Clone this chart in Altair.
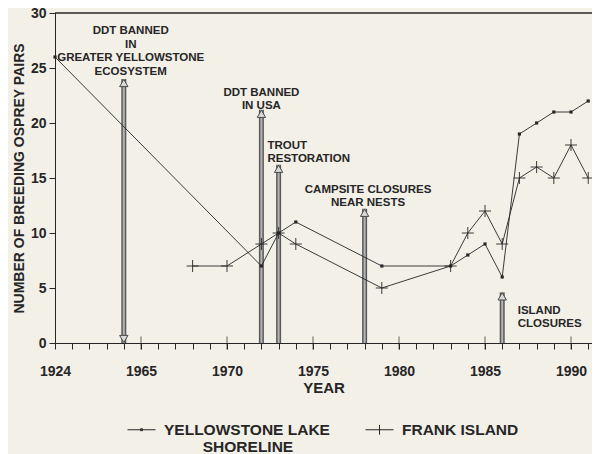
import altair as alt
import pandas as pd

# ---------------- data ----------------
# 1924 is drawn on a broken axis, one "slot" before 1965
BREAK_YEAR = 1924
BREAK_POS = 1960

shore_years = [1924, 1972, 1973, 1974, 1979, 1983, 1984, 1985, 1986, 1987, 1988, 1989, 1990, 1991]
shore_pairs = [26, 7, 10, 11, 7, 7, 8, 9, 6, 19, 20, 21, 21, 22]

frank_years = [1968, 1970, 1972, 1973, 1974, 1979, 1983, 1984, 1985, 1986, 1987, 1988, 1989, 1990, 1991]
frank_pairs = [7, 7, 9, 10, 9, 5, 7, 10, 12, 9, 15, 16, 15, 18, 15]

series_names = ["shore", "frank"]

event_pos = [1964, 1972, 1973, 1978, 1986]
event_top = [24, 21.2, 16.2, 12.2, 4.6]
event_double = [True, False, False, False, False]

ann_text = [
    "DDT BANNED\nIN\nGREATER YELLOWSTONE\nECOSYSTEM",
    "DDT BANNED\nIN USA",
    "TROUT\nRESTORATION",
    "CAMPSITE CLOSURES\nNEAR NESTS",
    "ISLAND\nCLOSURES",
]
ann_x = [1964.4, 1972, 1972.35, 1978.2, 1986.9]
ann_y = [28.9, 23.3, 18.5, 14.5, 3.5]
ann_align = ["center", "center", "left", "center", "left"]

x_tick_years = list(range(1960, 1992))
major_years = [1965, 1970, 1975, 1980, 1985, 1990]
y_ticks = [0, 5, 10, 15, 20, 25, 30]

# ---------------- tables ----------------
def to_pos(y):
    return BREAK_POS if y == BREAK_YEAR else y

obs = pd.DataFrame(
    {"pos": [to_pos(y) for y in shore_years], "pairs": shore_pairs, "series": "shore"}
)
obs = pd.concat(
    [obs, pd.DataFrame({"pos": [to_pos(y) for y in frank_years], "pairs": frank_pairs, "series": "frank"})],
    ignore_index=True,
)

events = pd.DataFrame({"pos": event_pos, "top": event_top, "pairs": 0, "double": event_double})
ann = pd.DataFrame({"pos": ann_x, "pairs": ann_y, "text": ann_text, "align": ann_align})
majors = pd.DataFrame({"pos": major_years, "pairs": 0})
legend_df = pd.DataFrame({"series": series_names})

INK = "#262626"
FONT = "Liberation Sans"

xscale = alt.Scale(domain=[1960, 1991.22], nice=False, zero=False)
yscale = alt.Scale(domain=[0, 30], nice=False)

x_axis = alt.Axis(
    values=x_tick_years,
    labelExpr="datum.value % 5 == 0 ? (datum.value == 1960 ? '1924' : format(datum.value, 'd')) : ''",
    title="YEAR",
    tickSize=6,
    labelPadding=15,
    titlePadding=2,
    labelOverlap=False,
    labelFlush=False,
    grid=False,
    labelFont=FONT, labelFontSize=14, labelFontWeight="bold", labelColor=INK,
    titleFont=FONT, titleFontSize=15, titleFontWeight="bold", titleColor=INK,
    domainColor=INK, tickColor=INK,
)
y_axis = alt.Axis(
    values=y_ticks,
    title="NUMBER OF BREEDING OSPREY PAIRS",
    tickSize=6,
    labelPadding=3,
    titlePadding=4,
    labelOverlap=False,
    grid=False,
    labelFont=FONT, labelFontSize=14, labelFontWeight="bold", labelColor=INK,
    titleFont=FONT, titleFontSize=14, titleFontWeight="bold", titleColor=INK,
    domainColor=INK, tickColor=INK,
)


def X(field="pos"):
    return alt.X(f"{field}:Q", scale=xscale, axis=x_axis)


def Y(field="pairs"):
    return alt.Y(f"{field}:Q", scale=yscale, axis=y_axis)


lines = alt.Chart(obs).mark_line(color=INK, strokeWidth=0.9).encode(
    x=X(), y=Y(), detail="series:N", order="pos:Q"
)

shore_pts = alt.Chart(obs).transform_filter(alt.datum.series == "shore").mark_point(
    shape="square", filled=True, size=10, color=INK, opacity=1
).encode(x=X(), y=Y())

frank_pts = alt.Chart(obs).transform_filter(alt.datum.series == "frank").mark_point(
    shape="M-1,0H1M0,-1V1", filled=False, size=144, color=INK, strokeWidth=0.9, opacity=1
).encode(x=X(), y=Y())

top_border = alt.Chart(legend_df).mark_rule(color=INK, strokeWidth=1).encode(
    y=alt.datum(30, scale=yscale, axis=y_axis)
)

major_ticks = alt.Chart(majors).mark_tick(orient="vertical", size=13, thickness=1, color=INK).encode(
    x=X(), y=Y()
)

shaft_outer = alt.Chart(events).mark_rule(color="#5a5a5a", strokeWidth=5).encode(
    x=X(), y=Y(), y2="top:Q"
)
shaft_inner = alt.Chart(events).mark_rule(color="#b5b5b5", strokeWidth=2).encode(
    x=X(), y=Y(), y2="top:Q"
)
head_up = alt.Chart(events).mark_point(
    shape="triangle-up", filled=True, fill="#d9d9d9", stroke="#4a4a4a", strokeWidth=1,
    size=70, yOffset=4, opacity=1
).encode(x=X(), y=Y("top"))
head_down = alt.Chart(events).transform_filter("datum.double").mark_point(
    shape="triangle-down", filled=True, fill="#d9d9d9", stroke="#4a4a4a", strokeWidth=1,
    size=70, yOffset=-4, opacity=1
).encode(x=X(), y=Y())


def ann_layer(align):
    return alt.Chart(ann).transform_filter(alt.datum.align == align).mark_text(
        align=align, baseline="top", lineBreak="\n", lineHeight=13.5,
        font=FONT, fontSize=11.5, fontWeight="bold", color=INK
    ).encode(x=X(), y=Y(), text="text:N")


ZW = "\u200b"
NB = "\u00a0"
legend_layer = alt.Chart(legend_df).transform_filter("false").mark_point(
    filled=False, color=INK, strokeWidth=1
).encode(
    shape=alt.Shape(
        "series:N",
        scale=alt.Scale(
            domain=series_names,
            range=["M-1,0.5H1M-0.07,0.43H0.07V0.57H-0.07Z", "M-1,0.5H1M0,0.15V0.85"],
        ),
        legend=alt.Legend(
            title=None,
            orient="none",
            legendX=72,
            legendY=395,
            direction="horizontal",
            padding=0,
            symbolSize=784,
            symbolStrokeWidth=1,
            symbolStrokeColor=INK,
            symbolOpacity=1,
            labelExpr="datum.value == 'shore' ? ['YELLOWSTONE LAKE', '" + ZW + NB * 9
            + "SHORELINE'] : ['FRANK ISLAND', '" + ZW + NB + "']",
            labelFont=FONT, labelFontSize=15.5, labelFontWeight="bold", labelColor=INK,
            labelBaseline="top",
            labelOffset=8,
            labelLimit=0,
            columnPadding=33,
        ),
    )
)

chart = alt.layer(
    top_border, major_ticks, shaft_outer, shaft_inner, head_down, head_up,
    lines, shore_pts, frank_pts, ann_layer("center"), ann_layer("left"), legend_layer,
).properties(
    width=537,
    height=330,
    background="#f3f0e8",
    padding={"left": 47, "top": 5, "right": 0, "bottom": 111},
    autosize=alt.AutoSizeParams(type="none"),
).configure_view(stroke=None)

chart.save("out.html", embed_options={"renderer": "svg", "actions": False})
